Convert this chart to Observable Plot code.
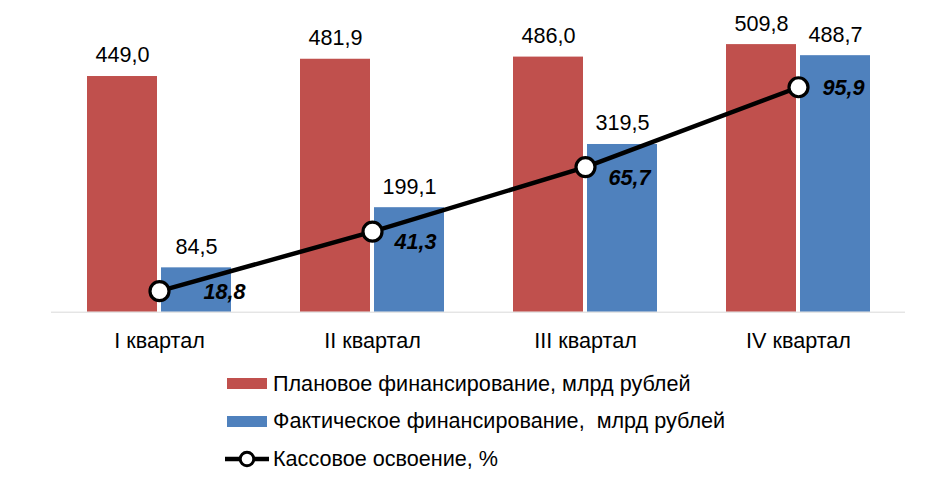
<!DOCTYPE html>
<html><head><meta charset="utf-8">
<script src="https://cdn.jsdelivr.net/npm/d3@7"></script>
<script src="https://cdn.jsdelivr.net/npm/@observablehq/plot@0.6"></script>
<style>
body{margin:0;background:#fff;font-family:"Liberation Sans",Arial,sans-serif;}
#wrap{position:relative;width:945px;height:485px;overflow:hidden;}
#chart{position:absolute;left:0;top:0;}
.row{position:absolute;height:24px;display:flex;align-items:center;font-size:21.6px;white-space:pre;color:#000;line-height:24px;}
.sw{display:inline-block;width:40px;height:11px;margin-right:6px;}
</style></head><body>
<div id="wrap"><div id="chart"></div><div id="legend"></div></div>
<script>
const quarters = ["I квартал", "II квартал", "III квартал", "IV квартал"];
const planned = [449.0, 481.9, 486.0, 509.8];
const actual = [84.5, 199.1, 319.5, 488.7];
const cashPct = [18.8, 41.3, 65.7, 95.9];
const seriesNames = ["Плановое финансирование, млрд рублей", "Фактическое финансирование,  млрд рублей", "Кассовое освоение, %"];
const colors = ["#C0504D", "#4F81BD", "#000000"];

const fmt = v => v.toFixed(1).replace(".", ",");
// secondary (percent) axis mapped onto primary units
const pctToPrimary = d3.scaleLinear().domain([10.85, 120]).range([0, 550]);

const planData = quarters.map((q, i) => ({q, v: planned[i]}));
const factData = quarters.map((q, i) => ({q, v: actual[i]}));
const pctData = quarters.map((q, i) => ({q, p: cashPct[i], y: pctToPrimary(cashPct[i])}));
const pctOffsets = [[44, 1], [22, 10], [23, 11], [24, 1]];
const FS = 21.6;

const chart = Plot.plot({
  width: 945,
  height: 360,
  marginLeft: 51,
  marginRight: 40,
  marginTop: 23,
  marginBottom: 48.3,
  style: {fontFamily: '"Liberation Sans", Arial, sans-serif', fontSize: FS + "px", color: "#000", background: "#fff"},
  x: {domain: quarters, paddingInner: 0.3255, paddingOuter: 0.1628, tickSize: 0, tickPadding: 20, label: null},
  y: {domain: [0, 550], axis: null},
  marks: [
    Plot.barY(planData, {x: "q", y: "v", fill: colors[0], insetRight: 74}),
    Plot.barY(factData, {x: "q", y: "v", fill: colors[1], insetLeft: 74}),
    Plot.ruleY([0], {stroke: "#d9d9d9", strokeWidth: 1}),
    Plot.text(planData, {x: "q", y: "v", text: d => fmt(d.v), dx: -37, dy: -21, fontSize: FS, fill: "#000"}),
    Plot.text(factData, {x: "q", y: "v", text: d => fmt(d.v), dx: 37, dy: -21, fontSize: FS, fill: "#000"}),
    Plot.line(pctData, {x: "q", y: "y", stroke: "#000", strokeWidth: 4.5}),
    Plot.dot(pctData, {x: "q", y: "y", r: 9.5, fill: "#fff", stroke: "#000", strokeWidth: 3.2}),
    ...pctData.map((d, i) => Plot.text([d], {x: "q", y: "y", text: d => fmt(d.p), textAnchor: "start", dx: pctOffsets[i][0], dy: pctOffsets[i][1], fontSize: FS, fontWeight: "bold", fontStyle: "italic", fill: "#000"}))
  ]
});
document.getElementById("chart").appendChild(chart);

const legend = document.getElementById("legend");
const rowCenters = [383.5, 421, 458.5];
seriesNames.forEach((name, i) => {
  const row = document.createElement("div");
  row.className = "row";
  row.style.top = (rowCenters[i] - 12) + "px";
  if (i < 2) {
    row.style.left = "227px";
    row.innerHTML = `<span class="sw" style="background:${colors[i]}"></span>`;
  } else {
    row.style.left = "225px";
    row.innerHTML = `<svg width="48" height="24" style="margin-right:0"><line x1="0" y1="12" x2="44" y2="12" stroke="#000" stroke-width="4.5"/><circle cx="22" cy="12" r="6.8" fill="#fff" stroke="#000" stroke-width="3"/></svg>`;
  }
  const t = document.createElement("span");
  t.textContent = name;
  row.appendChild(t);
  legend.appendChild(row);
});
</script>
</body></html>
